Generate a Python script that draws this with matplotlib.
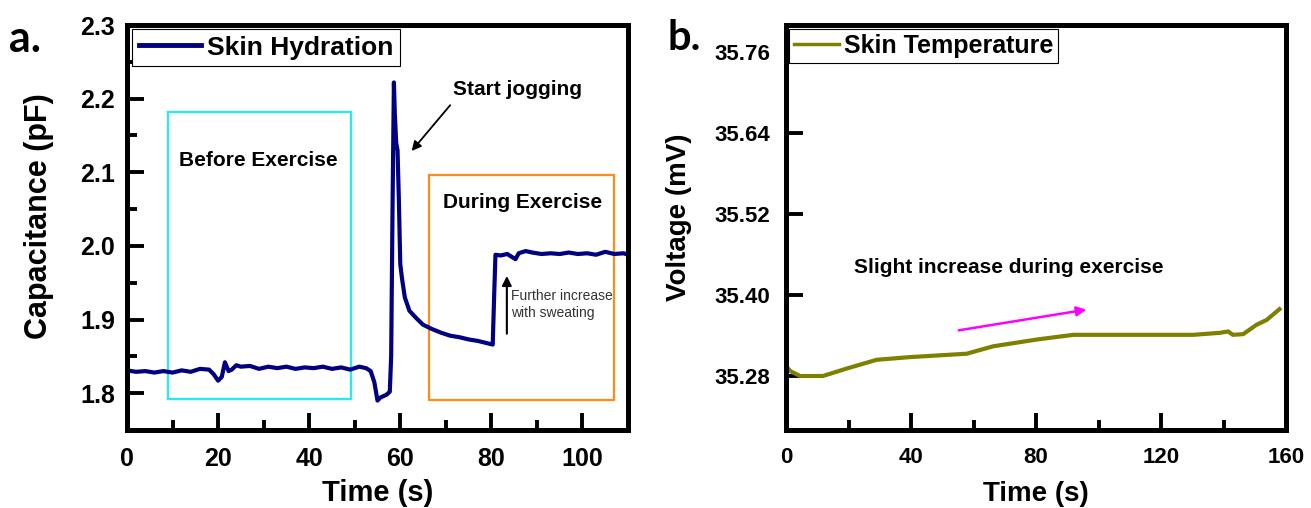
import matplotlib
matplotlib.use("Agg")
import matplotlib.pyplot as plt
from matplotlib.patches import Rectangle
from matplotlib.ticker import MultipleLocator, FixedLocator, FormatStrFormatter

plt.rcParams['font.family'] = ['Liberation Sans', 'DejaVu Sans']
plt.rcParams['font.weight'] = 'bold'

# panel a: skin hydration (capacitance, pF)
t_hyd = [0, 2, 4, 6, 8, 10, 12, 14, 16, 18, 19, 20, 20.8, 21.5, 22.3, 23, 24, 25,
         27, 29, 31, 33, 35, 37, 39, 41, 43, 45, 47, 49, 51, 52.5, 53.5, 54.3, 55,
         55.6, 56.3, 57, 57.7, 58.0, 58.3, 58.6, 58.8, 59.1, 59.4, 59.7, 60.0, 60.4,
         61, 62, 63.5, 65, 67, 69, 71, 73, 75, 77, 79, 80.3, 80.6, 80.9, 82, 83.5,
         84.5, 85.3, 86, 87.5, 89, 91, 93, 95, 97, 99, 101, 103, 105, 107, 109, 110]
c_hyd = [1.831, 1.829, 1.830, 1.828, 1.830, 1.828, 1.831, 1.829, 1.833, 1.832, 1.826,
         1.817, 1.822, 1.842, 1.830, 1.832, 1.838, 1.836, 1.837, 1.833, 1.836, 1.834,
         1.836, 1.833, 1.835, 1.834, 1.836, 1.833, 1.835, 1.832, 1.836, 1.834, 1.830,
         1.815, 1.790, 1.794, 1.796, 1.798, 1.802, 1.850, 2.050, 2.222, 2.180, 2.140,
         2.130, 2.060, 1.975, 1.955, 1.930, 1.912, 1.902, 1.893, 1.887, 1.882, 1.878,
         1.876, 1.873, 1.871, 1.868, 1.866, 1.930, 1.988, 1.987, 1.989, 1.985, 1.982,
         1.990, 1.993, 1.991, 1.989, 1.990, 1.989, 1.991, 1.989, 1.990, 1.988, 1.992,
         1.989, 1.990, 1.988]

# panel b: skin temperature (voltage, mV)
t_temp = [0, 1.5, 4.5, 11.8, 19.4, 29, 39.7, 57.8, 66.3, 80.2, 92, 110, 130.3,
          138.9, 141.5, 143, 146.3, 150.6, 153.8, 157.9]
v_temp = [35.294, 35.287, 35.280, 35.280, 35.291, 35.304, 35.308, 35.313, 35.324,
          35.334, 35.341, 35.341, 35.341, 35.344, 35.346, 35.341, 35.342, 35.356,
          35.363, 35.379]

W, H = 1311, 508
fig = plt.figure(figsize=(W / 100, H / 100), dpi=100)


def px_axes(l, t, r, b):
    return fig.add_axes([l / W, 1 - b / H, (r - l) / W, (b - t) / H])


def style(ax, size):
    for s in ax.spines.values():
        s.set_linewidth(3.6)
    ax.tick_params(which='both', direction='in', top=False, right=False,
                   width=2.8, labelsize=size)
    ax.tick_params(which='major', length=12)
    ax.tick_params(which='minor', length=7)
    ax.tick_params(axis='x', pad=12)


ax1 = px_axes(127, 25, 628, 430)
ax2 = px_axes(786, 25, 1286, 430)

# ---- a ----
ax1.plot(t_hyd, c_hyd, color='#000080', lw=3, label='Skin Hydration')
ax1.set_xlim(0, 110)
ax1.set_ylim(1.75, 2.3)
ax1.xaxis.set_major_locator(MultipleLocator(20))
ax1.xaxis.set_minor_locator(MultipleLocator(10))
ax1.yaxis.set_major_locator(MultipleLocator(0.1))
ax1.yaxis.set_minor_locator(MultipleLocator(0.05))
style(ax1, 18)
ax1.tick_params(axis='y', pad=8.5)

ax1.add_patch(Rectangle((9, 1.792), 40.2, 0.39, fill=False, ec='#22EEEE', lw=1.6))
ax1.add_patch(Rectangle((66.3, 1.791), 40.6, 0.305, fill=False, ec='#FF8C1A', lw=1.6))
ax1.text(28.9, 2.1086, 'Before Exercise', ha='center', va='baseline', fontsize=15)
ax1.text(86.8, 2.0515, 'During Exercise', ha='center', va='baseline', fontsize=15)
ax1.text(85.8, 2.2048, 'Start jogging', ha='center', va='baseline', fontsize=15)
ax1.annotate('', xy=(62.1, 2.126), xytext=(71.35, 2.194),
             arrowprops=dict(arrowstyle='-|>', color='black', lw=1.3, mutation_scale=14))
ax1.annotate('', xy=(83.4, 1.963), xytext=(83.4, 1.877),
             arrowprops=dict(arrowstyle='-|>', color='black', lw=1.5, mutation_scale=14))
ax1.text(84.3, 1.903, 'Further increase\nwith sweating', ha='left', va='baseline',
         fontsize=10, fontweight='normal', color='#333333', linespacing=1.3)

leg1 = ax1.legend(loc='upper left', bbox_to_anchor=(0.01, 0.99), borderaxespad=0,
                  fontsize=19, handlelength=2.35, handletextpad=0.25, borderpad=0.25,
                  fancybox=False, edgecolor='black', framealpha=1)
leg1.get_frame().set_linewidth(0.8)
leg1.get_lines()[0].set_linewidth(3.5)

# ---- b ----
ax2.plot(t_temp, v_temp, color='#808000', lw=3, label='Skin Temperature')
ax2.set_xlim(0, 160)
ax2.set_ylim(35.2, 35.8)
ax2.xaxis.set_major_locator(MultipleLocator(40))
ax2.xaxis.set_minor_locator(MultipleLocator(20))
ax2.yaxis.set_major_locator(FixedLocator([35.28, 35.40, 35.52, 35.64, 35.76]))
ax2.yaxis.set_major_formatter(FormatStrFormatter('%.2f'))
style(ax2, 16)
ax2.tick_params(axis='y', pad=11.5)

ax2.text(71.4, 35.433, 'Slight increase during exercise', ha='center', va='baseline',
         fontsize=15)
ax2.annotate('', xy=(97.0, 35.379), xytext=(54.4, 35.347),
             arrowprops=dict(arrowstyle='-|>', color='#FF00FF', lw=1.8, mutation_scale=14))

leg2 = ax2.legend(loc='upper left', bbox_to_anchor=(0.005, 0.99), borderaxespad=0,
                  fontsize=18, handlelength=1.8, handletextpad=0.2, borderpad=0.2,
                  fancybox=False, edgecolor='black', framealpha=1)
leg2.get_frame().set_linewidth(0.8)
leg2.get_lines()[0].set_linewidth(2.5)

# axis titles and panel letters
fig.text(377.5 / W, 1 - 501 / H, 'Time (s)', ha='center', va='baseline', fontsize=21)
fig.text(1036 / W, 1 - 501 / H, 'Time (s)', ha='center', va='baseline', fontsize=20)
fig.text(39 / W, 1 - 216 / H, 'Capacitance (pF)', ha='center', va='center',
         rotation=90, fontsize=22)
fig.text(679 / W, 1 - 217 / H, 'Voltage (mV)', ha='center', va='center',
         rotation=90, fontsize=20)
fig.text(9 / W, 1 - 52 / H, 'a.', ha='left', va='baseline', fontsize=31,
         family=['Lato', 'DejaVu Sans'])
fig.text(667 / W, 1 - 50 / H, 'b.', ha='left', va='baseline', fontsize=30,
         family=['Lato', 'DejaVu Sans'])

fig.savefig('out.png', dpi=100)
